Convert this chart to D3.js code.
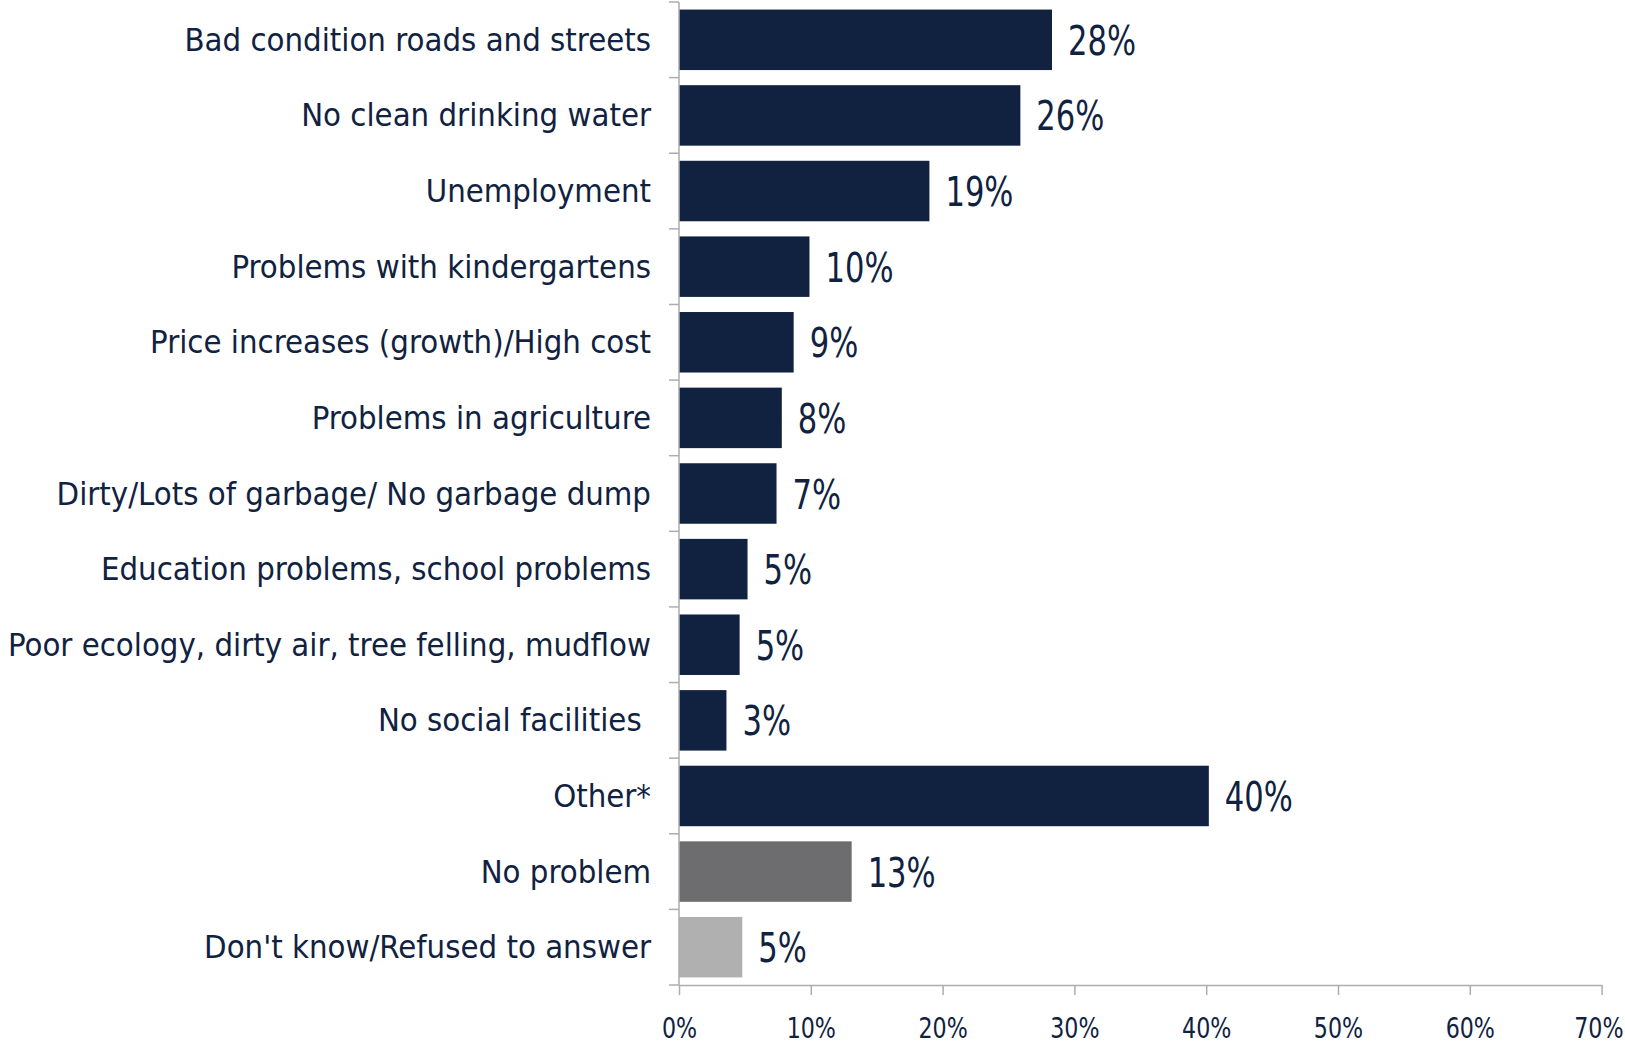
<!DOCTYPE html>
<html>
<head>
<meta charset="utf-8">
<script src="https://cdn.jsdelivr.net/npm/d3@7"></script>
<style>
  html, body { margin: 0; padding: 0; background: #fff; }
  svg { display: block; }
  .cat-label { font-family: "DejaVu Sans Condensed", "DejaVu Sans", sans-serif; font-size: 32.6px; fill: #10223f; white-space: pre; }
  .val-label { font-family: "DejaVu Sans Condensed", "DejaVu Sans", sans-serif; font-size: 41px; fill: #10223f; }
  .tick-label { font-family: "DejaVu Sans Condensed", "DejaVu Sans", sans-serif; font-size: 29px; fill: #10223f; }
</style>
</head>
<body>
<svg id="chart" width="1625" height="1046"></svg>
<script>
// chart data
var categories = [
    "Bad condition roads and streets",
    "No clean drinking water",
    "Unemployment",
    "Problems with kindergartens",
    "Price increases (growth)/High cost",
    "Problems in agriculture",
    "Dirty/Lots of garbage/ No garbage dump",
    "Education problems, school problems",
    "Poor ecology, dirty air, tree felling, mudflow",
    "No social facilities ",
    "Other*",
    "No problem",
    "Don't know/Refused to answer"
];
var values = [28.3, 25.9, 19.0, 9.9, 8.7, 7.8, 7.4, 5.2, 4.6, 3.6, 40.2, 13.1, 4.8];
var value_labels = ["28%", "26%", "19%", "10%", "9%", "8%", "7%", "5%", "5%", "3%", "40%", "13%", "5%"];
var bar_colors = ["#10223f", "#10223f", "#10223f", "#10223f", "#10223f", "#10223f", "#10223f",
                  "#10223f", "#10223f", "#10223f", "#10223f", "#6d6d6f", "#b0b0b0"];
var x_ticks = [0, 10, 20, 30, 40, 50, 60, 70];

var axis_color = "#adadb0";
var plot_left = 679, plot_right = 1601.6, plot_top = 2, plot_bottom = 985;

var svg = d3.select("#chart");

var x = d3.scaleLinear().domain([0, 70]).range([plot_left, plot_right]);
var y = d3.scaleBand().domain(categories).range([plot_top, plot_bottom]).paddingInner(0.2).paddingOuter(0.1);

// bars
svg.selectAll("rect.bar")
    .data(categories)
    .enter()
    .append("rect")
    .attr("class", "bar")
    .attr("x", x(0))
    .attr("y", function (d) { return y(d); })
    .attr("width", function (d, i) { return x(values[i]) - x(0); })
    .attr("height", y.bandwidth())
    .attr("fill", function (d, i) { return bar_colors[i]; });

// value labels, narrow like the original
svg.selectAll("g.val")
    .data(categories)
    .enter()
    .append("g")
    .attr("class", "val")
    .attr("transform", function (d, i) {
        return "translate(" + (x(values[i]) + 16) + "," + (y(d) + y.bandwidth() / 2 + 15) + ")";
    })
    .append("text")
    .attr("class", "val-label")
    .attr("transform", "scale(0.83,1)")
    .text(function (d, i) { return value_labels[i]; });

// category labels
svg.selectAll("text.cat-label")
    .data(categories)
    .enter()
    .append("text")
    .attr("class", "cat-label")
    .attr("x", plot_left - 28)
    .attr("y", function (d) { return y(d) + y.bandwidth() / 2 + 11; })
    .style("text-anchor", "end")
    .text(function (d) { return d; });

// y axis line with ticks between the bands
var step = y.step();
var boundaries = d3.range(categories.length + 1).map(function (i) { return plot_top + i * step; });

svg.append("line")
    .attr("x1", plot_left).attr("x2", plot_left)
    .attr("y1", plot_top).attr("y2", plot_bottom)
    .attr("stroke", axis_color).attr("stroke-width", 1.5);

svg.selectAll("line.ytick")
    .data(boundaries)
    .enter()
    .append("line")
    .attr("class", "ytick")
    .attr("x1", plot_left - 10).attr("x2", plot_left)
    .attr("y1", function (d) { return d; })
    .attr("y2", function (d) { return d; })
    .attr("stroke", axis_color).attr("stroke-width", 1.5);

// x axis
var x_axis = svg.append("g")
    .attr("transform", "translate(0," + plot_bottom + ")")
    .call(d3.axisBottom(x).tickValues(x_ticks).tickSize(10).tickSizeOuter(0).tickPadding(22)
        .tickFormat(function (d) { return d + "%"; }));

x_axis.select(".domain").attr("stroke", axis_color).attr("stroke-width", 1.5);
x_axis.selectAll(".tick line").attr("stroke", axis_color).attr("stroke-width", 1.5);
x_axis.selectAll(".tick text")
    .attr("class", "tick-label")
    .attr("font-family", null)
    .attr("font-size", null)
    .attr("fill", null)
    .attr("transform", "scale(0.85,1)");

// keep the last tick label inside the page
x_axis.selectAll(".tick text")
    .filter(function (d) { return d === x_ticks[x_ticks.length - 1]; })
    .attr("text-anchor", "end")
    .attr("x", (1623 - x(x_ticks[x_ticks.length - 1])) / 0.85);
</script>
</body>
</html>
